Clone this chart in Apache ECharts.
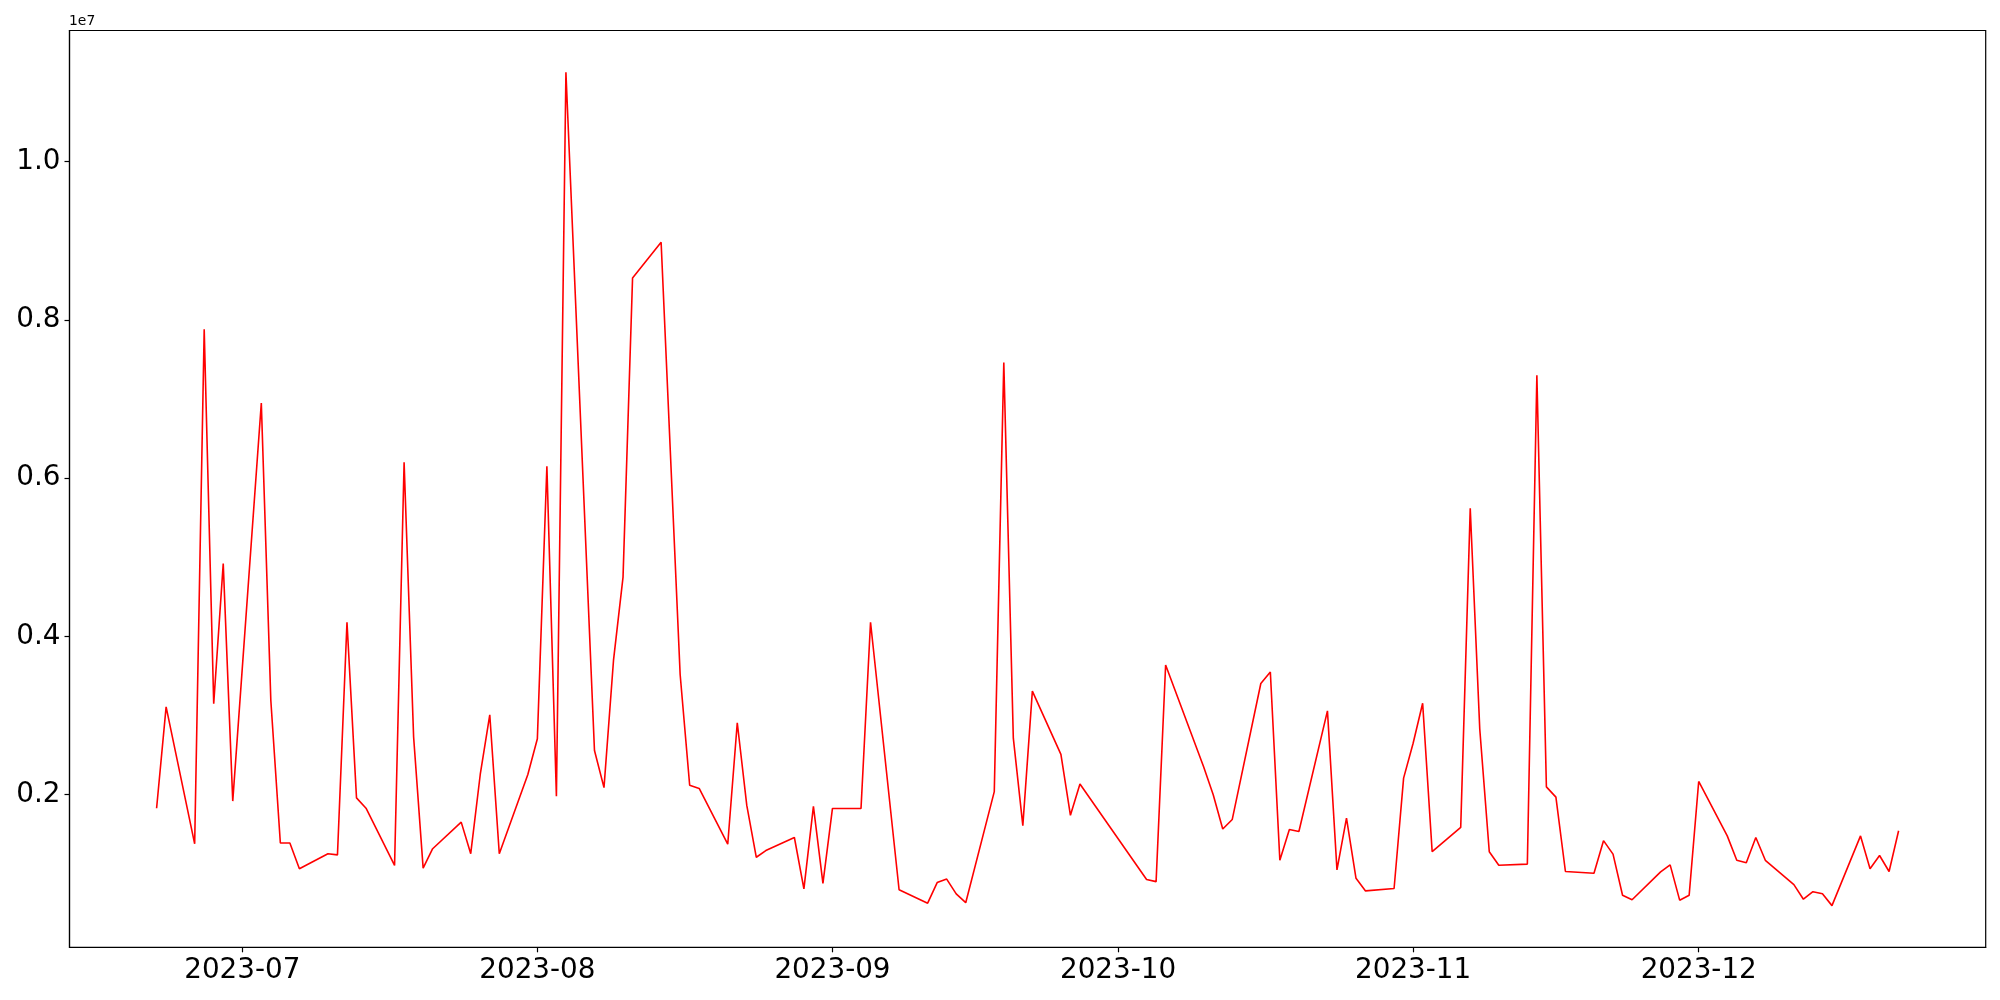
<!DOCTYPE html>
<html>
<head>
<meta charset="utf-8">
<script src="https://cdn.jsdelivr.net/npm/echarts@6/dist/echarts.min.js"></script>
<style>
html,body{margin:0;padding:0;background:#fff;}
#chart{width:2000px;height:1000px;}
</style>
</head>
<body>
<div id="chart"></div>
<script>
// Dates of observations
const dates = [
  '2023-06-22','2023-06-23','2023-06-26','2023-06-27','2023-06-28','2023-06-29','2023-06-30',
  '2023-07-03','2023-07-04','2023-07-05','2023-07-06','2023-07-07',
  '2023-07-10','2023-07-11','2023-07-12','2023-07-13','2023-07-14',
  '2023-07-17','2023-07-18','2023-07-19','2023-07-20','2023-07-21',
  '2023-07-24','2023-07-25','2023-07-26','2023-07-27','2023-07-28',
  '2023-07-31','2023-08-01','2023-08-02','2023-08-03','2023-08-04',
  '2023-08-07','2023-08-08','2023-08-09','2023-08-10','2023-08-11',
  '2023-08-14','2023-08-16','2023-08-17','2023-08-18',
  '2023-08-21','2023-08-22','2023-08-23','2023-08-24','2023-08-25',
  '2023-08-28','2023-08-29','2023-08-30','2023-08-31','2023-09-01',
  '2023-09-04','2023-09-05','2023-09-08',
  '2023-09-11','2023-09-12','2023-09-13','2023-09-14','2023-09-15',
  '2023-09-18','2023-09-19','2023-09-20','2023-09-21','2023-09-22',
  '2023-09-25','2023-09-26','2023-09-27',
  '2023-10-04','2023-10-05','2023-10-06',
  '2023-10-10','2023-10-11','2023-10-12','2023-10-13',
  '2023-10-16','2023-10-17','2023-10-18','2023-10-19','2023-10-20',
  '2023-10-23','2023-10-24','2023-10-25','2023-10-26','2023-10-27',
  '2023-10-30','2023-10-31','2023-11-01','2023-11-02','2023-11-03',
  '2023-11-06','2023-11-07','2023-11-08','2023-11-09','2023-11-10',
  '2023-11-13','2023-11-14','2023-11-15','2023-11-16','2023-11-17',
  '2023-11-20','2023-11-21','2023-11-22','2023-11-23','2023-11-24',
  '2023-11-27','2023-11-28','2023-11-29','2023-11-30','2023-12-01',
  '2023-12-04','2023-12-05','2023-12-06','2023-12-07','2023-12-08',
  '2023-12-11','2023-12-12','2023-12-13','2023-12-14','2023-12-15',
  '2023-12-18','2023-12-19','2023-12-20','2023-12-21','2023-12-22'
];

// Values in millions
const valuesMillions = [
  1.83, 3.11, 1.38, 7.88, 3.15, 4.92, 1.92,
  6.95, 3.19, 1.39, 1.39, 1.065,
  1.255, 1.24, 4.18, 1.96, 1.83,
  1.107, 6.20, 2.73, 1.073, 1.318,
  1.654, 1.255, 2.256, 3.01, 1.255,
  2.256, 2.707, 6.15, 1.98, 11.13,
  2.56, 2.09, 3.70, 4.75, 8.53,
  8.98, 3.52, 2.12, 2.08,
  1.375, 2.91, 1.865, 1.21, 1.295,
  1.46, 0.81, 1.854, 0.88, 1.827,
  1.827, 4.18, 0.80,
  0.63, 0.89, 0.934, 0.748, 0.636,
  2.04, 7.46, 2.715, 1.61, 3.31,
  2.51, 1.74, 2.135,
  0.929, 0.902, 3.64,
  2.35, 2.00, 1.567, 1.688,
  3.406, 3.55, 1.172, 1.56, 1.535,
  3.06, 1.05, 1.704, 0.944, 0.785,
  0.816, 2.21, 2.65, 3.156, 1.28,
  1.588, 5.62, 2.83, 1.28, 1.11,
  1.124, 7.30, 2.10, 1.97, 1.03,
  1.008, 1.42, 1.25, 0.73, 0.673,
  1.025, 1.114, 0.668, 0.731, 2.168,
  1.48, 1.172, 1.14, 1.46, 1.172,
  0.864, 0.68, 0.775, 0.748, 0.599,
  1.48, 1.066, 1.232, 1.03, 1.545
];

// Tick labels
const xTickLabels = ['2023-07','2023-08','2023-09','2023-10','2023-11','2023-12'];
const yTickLabels = ['0.2','0.4','0.6','0.8','1.0'];
const yOffsetText = '1e7';

function toUTC(s) {
  const p = s.split('-').map(Number);
  return Date.UTC(p[0], p[1] - 1, p[2] || 1);
}

const seriesData = dates.map((d, i) => [toUTC(d), Math.round(valuesMillions[i] * 1e6)]);
const xTickValues = xTickLabels.map(toUTC);
const yTickValues = yTickLabels.map(t => Math.round(parseFloat(t) * 1e7));

const pad = (lim) => (lim.max - lim.min) * 0.05;
const fontFamily = 'DejaVu Sans';

const chart = echarts.init(document.getElementById('chart'), null, {renderer: 'canvas'});
chart.setOption({
  animation: false,
  backgroundColor: '#ffffff',
  grid: {
    left: 69.5, top: 30.5, right: 14.3, bottom: 52.7,
    show: true, borderColor: '#000', borderWidth: 1.2, backgroundColor: 'transparent'
  },
  xAxis: {
    type: 'value',
    min: lim => lim.min - pad(lim),
    max: lim => lim.max + pad(lim),
    splitLine: {show: false},
    axisLine: {show: true, onZero: false, lineStyle: {color: '#000', width: 1.2}},
    axisTick: {show: true, customValues: xTickValues, length: 5, lineStyle: {color: '#000', width: 1.2}},
    axisLabel: {
      customValues: xTickValues,
      margin: 9,
      color: '#000',
      fontSize: 27.8,
      fontFamily: fontFamily,
      formatter: v => {
        const i = xTickValues.indexOf(v);
        return i >= 0 ? xTickLabels[i] : '';
      }
    }
  },
  yAxis: {
    type: 'value',
    min: lim => lim.min - pad(lim),
    max: lim => lim.max + pad(lim),
    splitLine: {show: false},
    axisLine: {show: true, onZero: false, lineStyle: {color: '#000', width: 1.2}},
    axisTick: {show: true, customValues: yTickValues, length: 5, lineStyle: {color: '#000', width: 1.2}},
    axisLabel: {
      customValues: yTickValues,
      margin: 9,
      color: '#000',
      fontSize: 27.8,
      fontFamily: fontFamily,
      formatter: v => {
        const i = yTickValues.indexOf(v);
        return i >= 0 ? yTickLabels[i] : '';
      }
    }
  },
  graphic: [{
    type: 'text',
    left: 69,
    top: 14,
    style: {text: yOffsetText, fill: '#000', font: '13.9px "DejaVu Sans"'}
  }],
  series: [{
    type: 'line',
    data: seriesData,
    showSymbol: false,
    symbol: 'none',
    lineStyle: {color: '#ff0000', width: 1.6},
    itemStyle: {color: '#ff0000'}
  }]
});
</script>
</body>
</html>
